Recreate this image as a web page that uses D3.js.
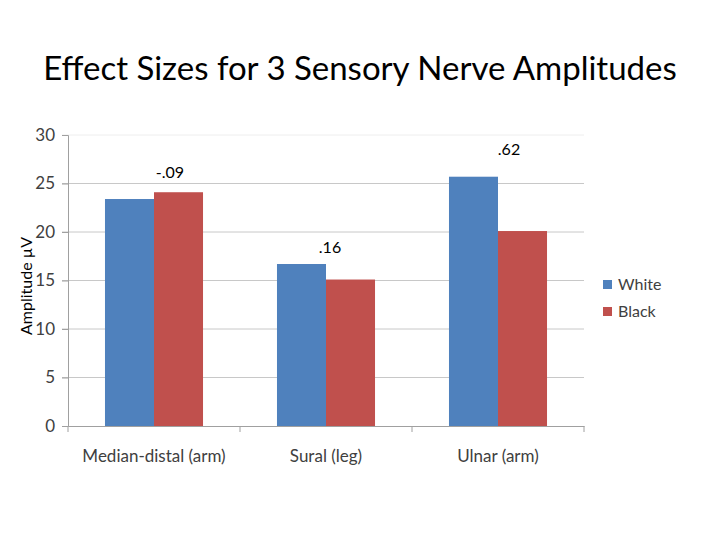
<!DOCTYPE html>
<html><head><meta charset="utf-8">
<script src="https://cdn.jsdelivr.net/npm/d3@7"></script>
<style>body{margin:0;background:#fff}svg{display:block}</style>
</head><body>
<script>
const categories = ["Median-distal (arm)", "Sural (leg)", "Ulnar (arm)"];
const seriesNames = ["White", "Black"];
const white = [23.4, 16.7, 25.7];
const black = [24.1, 15.1, 20.1];
const effectLabels = ["-.09", ".16", ".62"];
const effectLabelY = [25.6, 17.8, 27.9];
const yTicks = [0, 5, 10, 15, 20, 25, 30];
const colors = ["#4F81BD", "#C0504D"];

(function () {
const W = 720, H = 540;
const svg = d3.select("body").append("svg").attr("width", W).attr("height", H);
const font = "Lato, 'Open Sans', sans-serif";

svg.append("text").attr("x", 360).attr("y", 80).attr("text-anchor", "middle")
  .style("font-family", font).style("font-size", "33px").attr("fill", "#000")
  .text("Effect Sizes for 3 Sensory Nerve Amplitudes");

const mLeft = 68, mRight = 584, mTop = 135, mBottom = 426;
const x = d3.scaleBand().domain(categories).range([mLeft, mRight]).paddingInner(0).paddingOuter(0);
const y = d3.scaleLinear().domain([0, 30]).range([mBottom, mTop]);
const groupW = x.bandwidth() * 0.57;
const xs = d3.scaleBand().domain(seriesNames).range([0, groupW]);

svg.append("g").selectAll("line").data(yTicks.filter(d => d > 0)).join("line")
  .attr("x1", mLeft - 6).attr("x2", mRight).attr("y1", d => y(d)).attr("y2", d => y(d))
  .attr("stroke", d => d === 30 ? "#eeeeee" : "#c8c8c8").attr("stroke-width", 1);

const yAxis = d3.axisLeft(y).tickValues(yTicks).tickSize(6).tickPadding(7);
const gy = svg.append("g").attr("transform", `translate(${mLeft},0)`).call(yAxis);
gy.select(".domain").attr("stroke", "#a0a0a0");
gy.selectAll(".tick line").attr("stroke", "#a0a0a0");
gy.selectAll(".tick text").style("font-family", font).style("font-size", "17px").attr("fill", "#404040");

const data = categories.map((c, i) => ({ c, vals: [white[i], black[i]] }));
const g = svg.append("g");
data.forEach((d) => {
  const x0 = x(d.c) + (x.bandwidth() - groupW) / 2;
  g.append("g").selectAll("rect").data(d.vals).join("rect")
    .attr("x", (v, j) => x0 + xs(seriesNames[j]))
    .attr("width", xs.bandwidth())
    .attr("y", v => y(v)).attr("height", v => y(0) - y(v))
    .attr("fill", (v, j) => colors[j]);
});

const xAxis = d3.axisBottom(x).tickSize(0).tickPadding(24);
const gx = svg.append("g").attr("transform", `translate(0,${mBottom})`).call(xAxis);
gx.select(".domain").attr("stroke", "#a0a0a0");
gx.selectAll(".tick text").style("font-family", font).style("font-size", "17px").attr("fill", "#404040");
svg.append("g").selectAll("line").data([mLeft, ...categories.map(c => x(c) + x.bandwidth())]).join("line")
  .attr("x1", d => d).attr("x2", d => d).attr("y1", mBottom).attr("y2", mBottom + 6)
  .attr("stroke", "#a0a0a0");

svg.append("g").selectAll("text").data(categories).join("text")
  .attr("x", (c, i) => x(c) + x.bandwidth() / 2 + [16, 4, 11][i])
  .attr("y", (c, i) => y(effectLabelY[i]))
  .attr("text-anchor", "middle")
  .style("font-family", font).style("font-size", "16px").attr("fill", "#000")
  .text((c, i) => effectLabels[i]);

svg.append("text").attr("transform", "translate(32,286) rotate(-90)").attr("text-anchor", "middle")
  .style("font-family", font).style("font-size", "16px").attr("fill", "#000")
  .text("Amplitude µV");

const lg = svg.append("g");
seriesNames.forEach((s, i) => {
  lg.append("rect").attr("x", 603).attr("y", 280 + i * 27).attr("width", 9).attr("height", 9).attr("fill", colors[i]);
  lg.append("text").attr("x", 618).attr("y", 290 + i * 27)
    .style("font-family", font).style("font-size", "16px").attr("fill", "#404040").text(s);
});
})();
</script>
</body></html>
